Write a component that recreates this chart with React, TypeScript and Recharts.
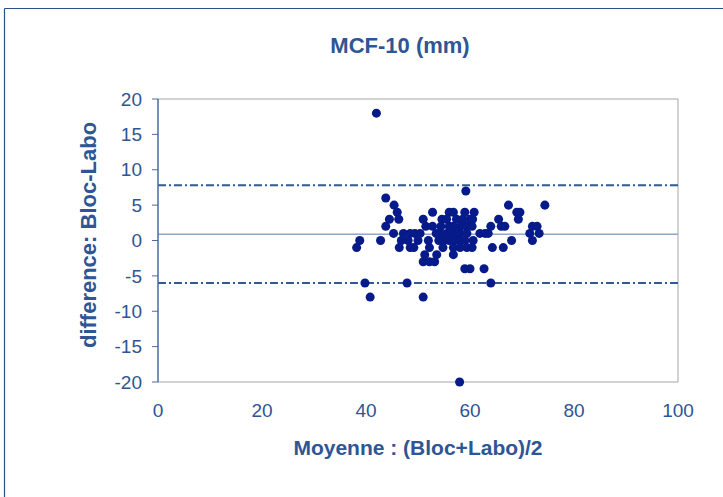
import React from "react";
import { ScatterChart, Scatter, XAxis, YAxis, ZAxis, ReferenceLine } from "recharts";

// Bland-Altman: mean of the two measures vs difference
const moyenne = [
  42, 58,
  38.2, 38.8, 39.8, 40.8, 42.8, 43.8, 45.4, 46, 44.5, 46.3, 43.8, 45.3,
  47.2, 48.5, 49.4, 50.4, 46.8, 48.1, 50, 46.4, 48.5, 49.2, 47.9, 51,
  51, 51.5, 52.8, 52.8, 52, 52.2, 51.3, 53.6, 51, 52.2, 53.2,
  56, 56.8, 59, 60.8,
  54.6, 55.5, 57.4, 58.6, 60, 60.5,
  54.4, 56, 56.8, 58.2, 59.4, 60.4,
  54.2, 55.5, 56.8, 58.1, 59.4, 57.5, 53.5,
  54, 55, 56, 57, 58, 59, 60.6, 56.5,
  54.8, 56.8, 58.1, 59.4, 60.4,
  56.8, 59.2, 59, 60, 62.7,
  61.9, 62.9, 63.5, 64, 66, 66.7, 65.5, 67.4, 69, 69.6, 69.3, 68,
  64.3, 66.4, 64, 72, 72.9, 71.5, 73.3, 72, 74.4,
];
const difference = [
  18, -20,
  -1, 0, -6, -8, 0, 6, 5, 4, 3, 3, 2, 1,
  1, 1, 1, 1, 0, 0, 0, -1, -1, -1, -6, -8,
  3, 2, 2, 4, 0, -1, -2, -2, -3, -3, -3,
  4, 4, 4, 4,
  3, 3, 3, 3, 3, 3,
  2, 2, 2, 2, 2, 2,
  1, 1, 1, 1, 1, 1, 1,
  0, 0, 0, 0, 0, 0, 0, 0,
  -1, -1, -1, -1, -1,
  -2, 7, -4, -4, -4,
  1, 1, 1, 2, 2, 2, 3, 5, 4, 4, 3, 0,
  -1, -1, -6, 2, 2, 1, 1, 0, 5,
];

const xTicks = [0, 20, 40, 60, 80, 100];
const yTicks = [-20, -15, -10, -5, 0, 5, 10, 15, 20];
const meanDiff = 0.9;
const upperLimit = 7.8;
const lowerLimit = -6.0;

const data = moyenne.map((m, i) => ({ x: m, y: difference[i] }));

const TEXT = "#2E5594";
const FONT = "'Liberation Sans', Arial, sans-serif";

export default function App() {
  return (
    <div style={{ position: "fixed", left: 0, top: 0, width: 723, height: 497, background: "#fff", overflow: "hidden" }}>
      <div style={{ position: "absolute", left: 0, top: 0 }}>
        <ScatterChart width={723} height={497} margin={{ top: 99, right: 45, bottom: 85, left: 98 }}>
          <XAxis
            type="number"
            dataKey="x"
            domain={[0, 100]}
            ticks={xTicks}
            interval={0}
            height={30}
            axisLine={{ stroke: "#a6a6a6", strokeWidth: 1 }}
            tickLine={false}
            tickSize={0}
            tickMargin={22}
            tick={{ fill: TEXT, fontSize: 19, fontFamily: FONT }}
          />
          <YAxis
            type="number"
            dataKey="y"
            domain={[-20, 20]}
            ticks={yTicks}
            interval={0}
            width={60}
            axisLine={{ stroke: "#4a6b9c", strokeWidth: 1.5 }}
            tickLine={{ stroke: "#4a6b9c" }}
            tickSize={6}
            tickMargin={10}
            tick={{ fill: TEXT, fontSize: 19, fontFamily: FONT }}
          />
          <ZAxis range={[46, 46]} />
          <ReferenceLine y={20} stroke="#a6a6a6" strokeWidth={1} />
          <ReferenceLine x={100} stroke="#a6a6a6" strokeWidth={1} />
          <ReferenceLine y={meanDiff} stroke="#8ea6c8" strokeWidth={1.5} />
          <ReferenceLine y={upperLimit} stroke="#2f5a94" strokeWidth={2} strokeDasharray="8 3 2 3" />
          <ReferenceLine y={lowerLimit} stroke="#2f5a94" strokeWidth={2} strokeDasharray="8 3 2 3" />
          <Scatter data={data} fill="#061a8a" shape="circle" isAnimationActive={false} />
        </ScatterChart>
      </div>
      <svg width={723} height={497} style={{ position: "absolute", left: 0, top: 0, pointerEvents: "none" }}>
        <line x1={4.5} y1={8.5} x2={723} y2={8.5} stroke="#2d4f8a" strokeWidth={1.2} />
        <line x1={4.5} y1={8.5} x2={4.5} y2={497} stroke="#2d4f8a" strokeWidth={1.2} />
        <text x={400} y={53} textAnchor="middle" fill={TEXT} fontSize={22} fontWeight="bold" fontFamily={FONT}>
          MCF-10 (mm)
        </text>
        <text x={418} y={455} textAnchor="middle" fill={TEXT} fontSize={21} fontWeight="bold" fontFamily={FONT}>
          Moyenne : (Bloc+Labo)/2
        </text>
        <text
          x={0}
          y={0}
          transform="translate(96,235) rotate(-90)"
          textAnchor="middle"
          fill={TEXT}
          fontSize={22}
          fontWeight="bold"
          fontFamily={FONT}
        >
          difference: Bloc-Labo
        </text>
      </svg>
    </div>
  );
}
